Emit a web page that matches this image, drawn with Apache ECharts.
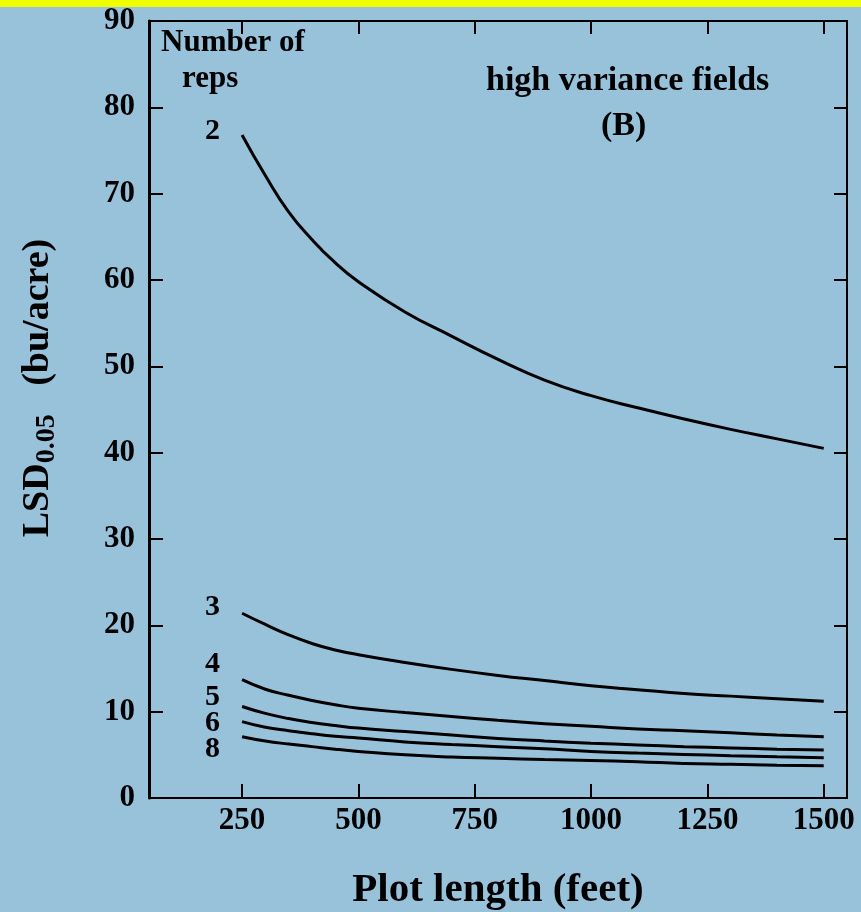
<!DOCTYPE html>
<html>
<head>
<meta charset="utf-8">
<script src="https://cdn.jsdelivr.net/npm/echarts@6/dist/echarts.min.js"></script>
<style>
  html, body { margin: 0; padding: 0; background: #98c1da; }
  #strip { position: absolute; left: 0; top: 0; width: 861px; height: 7px; background: #eefe00; z-index: 2; }
  #chart { width: 861px; height: 912px; }
</style>
</head>
<body>
<div id="strip"></div>
<div id="chart"></div>
<script>
// plot length (feet)
var plotLength = [250, 300, 350, 400, 450, 500, 600, 700, 800, 900, 1000, 1100, 1200, 1300, 1400, 1500]
var xTicks = [250, 500, 750, 1000, 1250, 1500]

// LSD 0.05 (bu/acre) by number of reps
var reps = ['2', '3', '4', '5', '6', '8']
var lsd2 = [76.8, 72.1, 67.9, 64.7, 62.0, 59.8, 56.3, 53.5, 50.8, 48.4, 46.6, 45.2, 43.9, 42.7, 41.6, 40.5]
var lsd3 = [21.4, 20.1, 18.9, 17.9, 17.15, 16.6, 15.7, 14.9, 14.2, 13.6, 13.0, 12.55, 12.1, 11.8, 11.5, 11.2]
var lsd4 = [13.7, 12.6, 11.9, 11.3, 10.8, 10.4, 9.9, 9.45, 9.0, 8.6, 8.3, 8.0, 7.8, 7.55, 7.3, 7.1]
var lsd5 = [10.6, 9.8, 9.2, 8.75, 8.4, 8.1, 7.7, 7.3, 6.9, 6.6, 6.35, 6.15, 5.95, 5.8, 5.65, 5.55]
var lsd6 = [8.85, 8.2, 7.8, 7.45, 7.15, 6.95, 6.5, 6.2, 5.95, 5.7, 5.4, 5.2, 5.05, 4.9, 4.78, 4.67]
var lsd8 = [7.1, 6.6, 6.25, 5.95, 5.65, 5.4, 5.0, 4.75, 4.6, 4.45, 4.35, 4.2, 4.0, 3.9, 3.8, 3.74]
var lsdSeries = [lsd2, lsd3, lsd4, lsd5, lsd6, lsd8]

// vertical nudge of each rep label (px)
var labelNudge = [-4, -6, -15, -9, 2, 13]

var FONT = 'Liberation Serif'
var chart = echarts.init(document.getElementById('chart'))

var series = lsdSeries.map(function(vals, i) {
  var data = vals.map(function(v, j) {
    var item = { value: [plotLength[j], v] }
    if (j === 0) {
      item.label = {
        show: true,
        position: 'left',
        distance: 22,
        offset: [0, labelNudge[i]],
        formatter: reps[i],
        fontFamily: FONT,
        fontWeight: 'bold',
        fontSize: 30,
        color: '#000'
      }
    }
    return item
  })
  return {
    name: reps[i],
    type: 'line',
    smooth: 0.5,
    showSymbol: true,
    symbol: 'circle',
    symbolSize: 0.1,
    data: data,
    label: { show: false },
    lineStyle: { color: '#000', width: 3 },
    itemStyle: { color: '#000' },
    animation: false
  }
})

var axisText = { fontFamily: FONT, fontWeight: 'bold', fontSize: 31, color: '#000' }
var noComma = function(v) { return String(v) }

chart.setOption({
  backgroundColor: 'transparent',
  grid: { left: 149, right: 14, top: 21, bottom: 114, show: false, outerBoundsMode: 'none', containLabel: false },
  xAxis: [{
    type: 'value',
    min: 50,
    max: 1550,
    position: 'bottom',
    name: 'Plot length (feet)',
    nameLocation: 'middle',
    nameGap: 72,
    nameTextStyle: { fontFamily: FONT, fontWeight: 'bold', fontSize: 41, color: '#000' },
    axisLine: { show: true, onZero: false, lineStyle: { color: '#000', width: 2 } },
    axisTick: { show: true, inside: true, length: 14, customValues: xTicks, lineStyle: { color: '#000', width: 2 } },
    axisLabel: Object.assign({ customValues: xTicks, margin: 7, formatter: noComma }, axisText),
    splitLine: { show: false }
  }, {
    type: 'value',
    min: 50,
    max: 1550,
    position: 'top',
    axisLine: { show: true, onZero: false, lineStyle: { color: '#000', width: 2 } },
    axisTick: { show: true, inside: true, length: 13, customValues: xTicks, lineStyle: { color: '#000', width: 2 } },
    axisLabel: { show: false },
    splitLine: { show: false }
  }],
  yAxis: [{
    type: 'value',
    min: 0,
    max: 90,
    interval: 10,
    position: 'left',
    axisLine: { show: true, onZero: false, lineStyle: { color: '#000', width: 3 } },
    axisTick: { show: true, inside: true, length: 14, lineStyle: { color: '#000', width: 2 } },
    axisLabel: Object.assign({ margin: 14 }, axisText),
    splitLine: { show: false }
  }, {
    type: 'value',
    min: 0,
    max: 90,
    interval: 10,
    position: 'right',
    axisLine: { show: true, onZero: false, lineStyle: { color: '#000', width: 2 } },
    axisTick: { show: true, inside: true, length: 13, lineStyle: { color: '#000', width: 2 } },
    axisLabel: { show: false },
    splitLine: { show: false }
  }],
  graphic: [
    {
      type: 'text', x: 38, y: 388, rotation: Math.PI / 2,
      style: {
        text: '{a|LSD}{b|0.05}{a|   (bu/acre)}',
        align: 'center', verticalAlign: 'middle',
        rich: {
          a: { fontFamily: FONT, fontWeight: 'bold', fontSize: 38, fill: '#000' },
          b: { fontFamily: FONT, fontWeight: 'bold', fontSize: 28, fill: '#000', padding: [17, 0, 0, 0] }
        }
      }
    },
    { type: 'text', left: 161, top: 27, style: { text: 'Number of', fontFamily: FONT, fontWeight: 'bold', fontSize: 31, fill: '#000' } },
    { type: 'text', left: 182, top: 63, style: { text: 'reps', fontFamily: FONT, fontWeight: 'bold', fontSize: 31, fill: '#000' } },
    { type: 'text', left: 486, top: 64, style: { text: 'high variance fields', fontFamily: FONT, fontWeight: 'bold', fontSize: 34, fill: '#000' } },
    { type: 'text', left: 601, top: 109, style: { text: '(B)', fontFamily: FONT, fontWeight: 'bold', fontSize: 34, fill: '#000' } }
  ],
  series: series
})
</script>
</body>
</html>
